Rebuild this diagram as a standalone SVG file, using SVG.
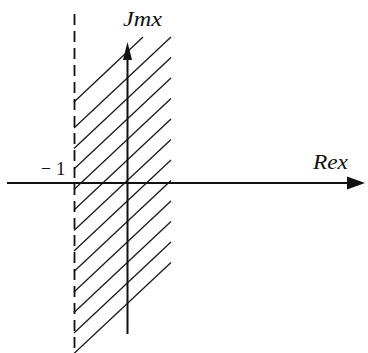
<svg xmlns="http://www.w3.org/2000/svg" width="368" height="353" viewBox="0 0 368 353">
  <style>
    .axis { stroke: #111; stroke-width: 2; fill: none; }
    .hatch { stroke: #1a1a1a; stroke-width: 1.3; fill: none; }
    .dash { stroke: #111; stroke-width: 1.8; stroke-dasharray: 11 6; fill: none; }
    .lbl { font-family: "Liberation Serif", "Times New Roman", serif; font-style: italic; font-size: 20px; fill: #111; }
    .num { font-family: "Liberation Serif", "Times New Roman", serif; font-size: 19px; fill: #111; }
  </style>
  <rect width="368" height="353" fill="#fff"/>
  <g id="hatching">
    <line class="hatch" x1="74" y1="102" x2="125" y2="54" stroke="#999" stroke-width="0.9"/>
    <line class="hatch" x1="125" y1="54" x2="143" y2="37"/>
    <line class="hatch" x1="74" y1="128" x2="171" y2="37"/>
    <line class="hatch" x1="74" y1="148.5" x2="171" y2="57.5"/>
    <line class="hatch" x1="74" y1="169" x2="171" y2="78"/>
    <line class="hatch" x1="74" y1="189.5" x2="171" y2="98.5"/>
    <line class="hatch" x1="74" y1="210" x2="171" y2="119"/>
    <line class="hatch" x1="74" y1="230.5" x2="171" y2="139.5"/>
    <line class="hatch" x1="74" y1="251" x2="171" y2="160"/>
    <line class="hatch" x1="74" y1="271.5" x2="171" y2="180.5"/>
    <line class="hatch" x1="74" y1="292" x2="171" y2="201"/>
    <line class="hatch" x1="74" y1="312.5" x2="171" y2="221.5"/>
    <line class="hatch" x1="74" y1="333" x2="171" y2="242"/>
    <line class="hatch" x1="74" y1="353.5" x2="171" y2="262.5"/>
  </g>
  <g id="boundary">
    <line class="dash" x1="74.5" y1="14" x2="74.5" y2="353"/>
  </g>
  <g id="axes">
    <line class="axis" x1="7" y1="183" x2="350" y2="183"/>
    <polygon points="365,183 347,176.5 347,189.5" fill="#111"/>
    <line class="axis" x1="127.5" y1="334" x2="127.5" y2="56"/>
    <polygon points="127.5,42 123,60 132,60" fill="#111"/>
  </g>
  <g id="labels">
    <text class="lbl" x="123" y="26" textLength="39" lengthAdjust="spacingAndGlyphs">Jmx</text>
    <text class="lbl" x="313" y="169" textLength="35" lengthAdjust="spacingAndGlyphs">Rex</text>
    <text class="num" x="41" y="175" textLength="10" lengthAdjust="spacingAndGlyphs">−</text>
    <text class="num" x="56" y="175">1</text>
  </g>
</svg>
